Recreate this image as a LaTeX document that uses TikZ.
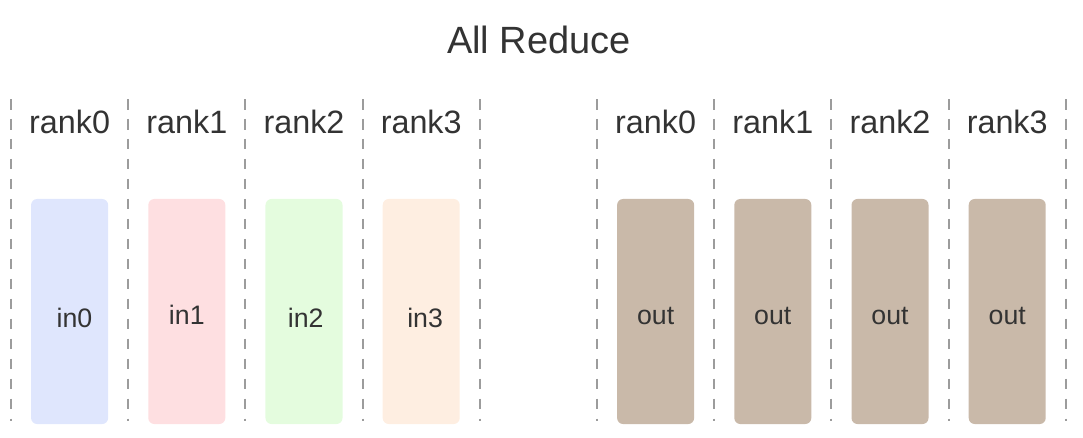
\documentclass[tikz,border=0pt]{standalone}
\usepackage{fontspec}
\setmainfont{Liberation Sans}
\definecolor{txt}{HTML}{333333}
\definecolor{sepgray}{HTML}{9C9C9C}
\definecolor{bufA}{HTML}{DFE6FD}
\definecolor{bufB}{HTML}{FEDFE1}
\definecolor{bufC}{HTML}{E4FCDE}
\definecolor{bufD}{HTML}{FEEEE1}
\definecolor{bufOut}{HTML}{C9B9A9}

\begin{document}
\begin{tikzpicture}[x=0.025cm,y=-0.025cm,font=\color{txt},sep/.style={draw=sepgray, line width=1.4pt, dash pattern=on 7.5pt off 6.7pt},buf/.style={rounded corners=4.3pt, minimum width=1.925cm, minimum height=5.625cm, inner sep=0pt},ranklab/.style={anchor=base, font=\fontsize{23}{27}\selectfont\color{txt}},buflab/.style={anchor=base, font=\fontsize{19}{23}\selectfont\color{txt}}]
\useasboundingbox (0,0) rectangle (1083,437);
\node[anchor=base, font=\fontsize{27}{32}\selectfont\color{txt}] (title) at (539,53) {All Reduce};
\draw[sep] (11,99) -- (11,421);\draw[sep] (128.2,99) -- (128.2,421);\draw[sep] (245.4,99) -- (245.4,421);\draw[sep] (362.6,99) -- (362.6,421);\draw[sep] (479.8,99) -- (479.8,421);
\draw[sep] (597,99) -- (597,421);\draw[sep] (714.2,99) -- (714.2,421);\draw[sep] (831.4,99) -- (831.4,421);\draw[sep] (948.6,99) -- (948.6,421);\draw[sep] (1065.8,99) -- (1065.8,421);
\node[ranklab] (r0) at (69.6,133) {rank0};\node[ranklab] (r1) at (186.8,133) {rank1};\node[ranklab] (r2) at (304,133) {rank2};\node[ranklab] (r3) at (421.2,133) {rank3};
\node[ranklab] (s0) at (655.6,133) {rank0};\node[ranklab] (s1) at (772.8,133) {rank1};\node[ranklab] (s2) at (890,133) {rank2};\node[ranklab] (s3) at (1007.2,133) {rank3};
\node[buf, fill=bufA] (in0) at (69.6,311.5) {};\node[buf, fill=bufB] (in1) at (186.8,311.5) {};\node[buf, fill=bufC] (in2) at (304,311.5) {};\node[buf, fill=bufD] (in3) at (421.2,311.5) {};
\node[buf, fill=bufOut] (out0) at (655.6,311.5) {};\node[buf, fill=bufOut] (out1) at (772.8,311.5) {};\node[buf, fill=bufOut] (out2) at (890,311.5) {};\node[buf, fill=bufOut] (out3) at (1007.2,311.5) {};
\node[buflab] (t0) at ([xshift=3.5pt,yshift=-11.5pt]in0.center) {in0};\node[buflab] (t1) at ([yshift=-9.4pt]in1.center) {in1};\node[buflab] (t2) at ([xshift=1.2pt,yshift=-11.5pt]in2.center) {in2};\node[buflab] (t3) at ([xshift=2.8pt,yshift=-11.5pt]in3.center) {in3};
\node[buflab] (u0) at ([yshift=-9.4pt]out0.center) {out};\node[buflab] (u1) at ([yshift=-9.4pt]out1.center) {out};\node[buflab] (u2) at ([yshift=-9.4pt]out2.center) {out};\node[buflab] (u3) at ([yshift=-9.4pt]out3.center) {out};
\end{tikzpicture}
\end{document}
